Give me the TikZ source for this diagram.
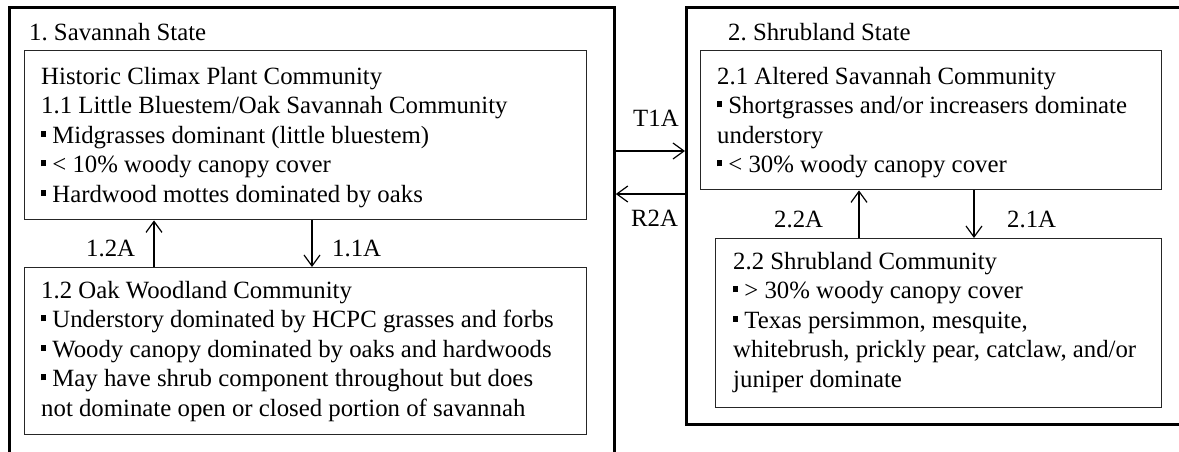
\documentclass[tikz,border=0pt]{standalone}
\usepackage{fontspec}
\setmainfont{Liberation Serif}
\usetikzlibrary{arrows.meta}
\newcommand\bul{\rule[0.26em]{0.2em}{0.24em}\ }
\newcommand\fst{\rule{0pt}{20pt}}
\frenchspacing
\begin{document}
\begin{tikzpicture}[x=1pt,y=-1pt,
  outerbox/.style={draw=black, line width=2.8pt, anchor=north west, inner sep=0pt},
  innerbox/.style={draw=black!85, line width=1.4pt, anchor=north west, inner sep=0pt},
  txt/.style={anchor=north west, inner sep=0pt, align=left, font=\fontsize{24.8}{29.5}\selectfont, text=black},
  lbl/.style={anchor=base west, inner sep=0pt, font=\fontsize{24.8}{29.5}\selectfont, text=black},
  arr/.style={line width=1.2pt, draw=black, -{Straight Barb[length=11pt,width=16pt,line width=1.2pt]}}]
\useasboundingbox (0,0) rectangle (1179,451);
\fill[white] (0,0) rectangle (1179,451);
% state boxes
\node[outerbox, minimum width=605pt, minimum height=464pt] (s1) at (8,6) {};
\node[outerbox, minimum width=510pt, minimum height=417pt] (s2) at (685,6) {};
% community boxes
\node[innerbox, minimum width=562pt, minimum height=169pt] (b11) at (24,50) {};
\node[innerbox, minimum width=562pt, minimum height=167pt] (b12) at (24,267) {};
\node[innerbox, minimum width=461pt, minimum height=139pt] (b21) at (700,50) {};
\node[innerbox, minimum width=446pt, minimum height=169pt] (b22) at (715,238) {};
% titles
\node[lbl] (ti1) at (29,40) {1. Savannah State};
\node[lbl] (ti2) at (728,40) {2. Shrubland State};
% texts
\node[txt] (t11) at (41,64) {\fst Historic Climax Plant Community\\
1.1 Little Bluestem/Oak Savannah Community\\
\bul Midgrasses dominant (little bluestem)\\
\bul < 10\% woody canopy cover\\
\bul Hardwood mottes dominated by oaks};
\node[txt] (t12) at (41,278) {\fst 1.2 Oak Woodland Community\\
\bul Understory dominated by HCPC grasses and forbs\\
\bul Woody canopy dominated by oaks and hardwoods\\
\bul May have shrub component throughout but does\\
not dominate open or closed portion of savannah};
\node[txt] (t21) at (717,64) {\fst 2.1 Altered Savannah Community\\
\bul Shortgrasses and/or increasers dominate\\
understory\\
\bul < 30\% woody canopy cover};
\node[txt] (t22) at (733,249) {\fst 2.2 Shrubland Community\\
\bul > 30\% woody canopy cover\\
\bul Texas persimmon, mesquite,\\
whitebrush, prickly pear, catclaw, and/or\\
juniper dominate};
% arrow positions
\coordinate (xa) at (154,0);
\coordinate (xb) at (312,0);
\coordinate (xc) at (859,0);
\coordinate (xd) at (974,0);
\coordinate (ya) at (0,151);
\coordinate (yb) at (0,194);
% arrows
\draw[arr] (b12.north -| xa) -- (b11.south -| xa);
\draw[arr] (b11.south -| xb) -- (b12.north -| xb);
\draw[arr] (b22.north -| xc) -- (b21.south -| xc);
\draw[arr] (b21.south -| xd) -- (b22.north -| xd);
\draw[arr] (s1.east |- ya) -- (s2.west |- ya);
\draw[arr] (s2.west |- yb) -- (s1.east |- yb);
% labels
\node[lbl] (l12) at (86,256) {1.2A};
\node[lbl] (l11) at (332,256) {1.1A};
\node[lbl] (l22) at (774,227) {2.2A};
\node[lbl] (l21) at (1007,227) {2.1A};
\node[lbl] (lt) at (633,126) {T1A};
\node[lbl] (lr) at (631,226) {R2A};
\end{tikzpicture}
\end{document}
